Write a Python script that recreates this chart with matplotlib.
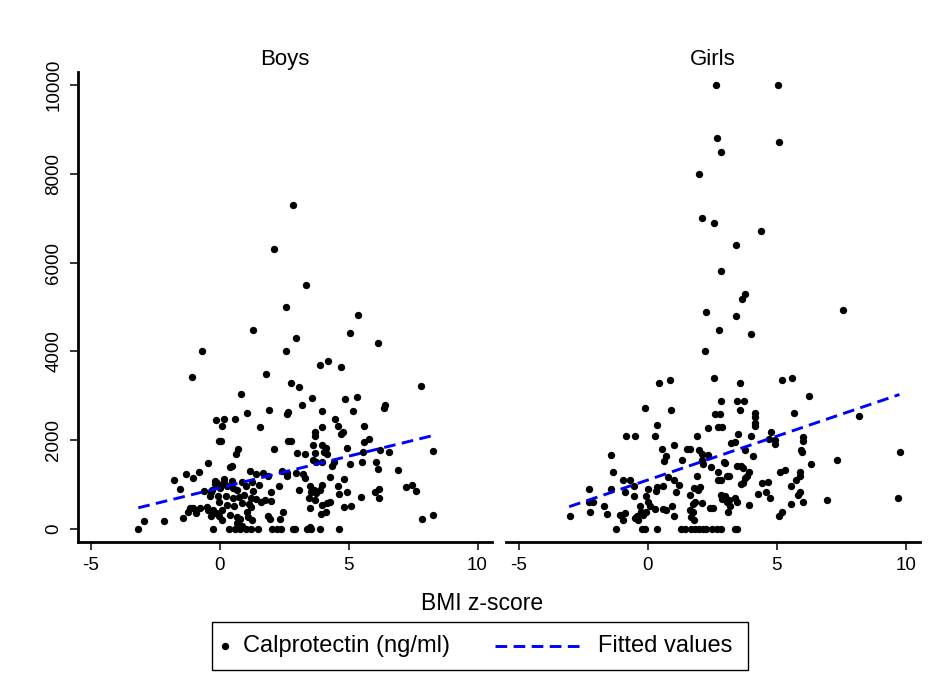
import numpy as np
import matplotlib
matplotlib.use("Agg")
import matplotlib.pyplot as plt
from matplotlib.lines import Line2D
from matplotlib.patches import Rectangle

plt.rcParams.update({"font.family": ["Liberation Sans", "DejaVu Sans"]})

# ---------------- data ----------------
boys_bmi = [
    2.85, 2.11, 3.35, 2.56, 5.38, 1.30, 5.07, 2.97, -0.67, 2.56, 6.13, 3.91, 4.22, 4.72, -1.07, 1.81,
    7.80, 2.78, 3.07, 0.82, 3.59, 4.86, 5.33, 3.19, 6.41, 6.36, 1.93, 2.67, 2.63, 3.96, 5.16, 1.08,
    4.49, -0.12, 0.16, 0.59,
    0.10, 1.56, -0.01, 0.05, 2.12, 0.73, 0.64, 2.64, 2.76, -0.43, 0.47, 0.42, -1.31, -0.81, -1.75, -1.02,
    1.16, 1.41, 1.69, 2.41, 2.63, 2.60, -0.17, -0.11, -0.19, 0.19, 0.19, 0.50, 0.86, 1.27, 1.54, 1.89,
    2.31, -1.54, -0.60, -0.30, -0.34, 0.02, 0.30, 0.53, 0.67, 1.04, 1.29, 0.96, 1.98, 1.75, 1.60, 1.98,
    -0.37, -0.05, 0.26, 0.53, 0.76, 1.22, 1.43, -0.01, 0.28, 0.56, 0.86, 1.14, 1.21, -1.13, -1.04, -1.21,
    -0.91, -0.76, -0.50, -0.43, -0.24, -0.14, 0.11, -0.33, -0.01, 0.09, 0.41, 0.68, 0.78, 1.05, 1.09, 1.25,
    1.87, 1.96, 2.47, 2.36, -2.94, -2.16, -3.15, -0.26, 0.38, 0.60, 0.81, 1.02, 1.22, 1.48, 0.67, 0.86,
    2.02, 2.24, 2.38, 2.86, -1.43,
    3.98, 4.60, 4.78, 4.71, 5.60, 3.71, 3.71, 5.79, 5.60, 3.61, 3.96, 4.13, 4.06, 4.16, 4.95, 2.99,
    3.31, 3.70, 5.57, 6.22, 6.56, 8.26, 3.64, 3.74, 3.96, 4.45, 4.37, 5.07, 5.52, 6.08, 6.13, 6.92,
    2.97, 3.25, 3.31, 4.28, 4.84, 3.07, 3.51, 3.66, 3.55, 3.96, 3.90, 3.74, 3.48, 3.70, 4.58, 4.64,
    4.95, 4.28, 4.16, 3.96, 3.51, 5.47, 6.03, 6.19, 6.18, 5.10, 4.84, 4.12, 3.93, 7.24, 7.47, 7.60,
    8.26, 7.84, 2.93, 3.38, 3.51, 3.53, 3.90, 4.63,
]
boys_calpro = [
    7300, 6300, 5490, 5000, 4830, 4490, 4410, 4300, 4000, 4000, 4200, 3700, 3790, 3650, 3430, 3500,
    3220, 3300, 3200, 3050, 2950, 2940, 2980, 2790, 2800, 2720, 2680, 2630, 2590, 2650, 2650, 2610,
    2490, 2460, 2490, 2490,
    2310, 2300, 1990, 1990, 1800, 1800, 1690, 1990, 1990, 1485, 1430, 1395, 1240, 1280, 1110, 1160,
    1300, 1250, 1260, 1300, 1260, 1185, 1090, 1035, 1010, 1125, 1035, 1090, 1070, 1050, 990, 1185,
    960, 900, 860, 885, 835, 920, 960, 920, 885, 980, 855, 770, 845, 660, 620, 630,
    735, 735, 750, 710, 720, 705, 675, 620, 550, 525, 585, 570, 500, 485, 485, 390,
    360, 470, 495, 435, 435, 360, 420, 285, 305, 210, 320, 270, 230, 375, 270, 210,
    285, 225, 395, 230, 185, 180, 0, 0, 0, 0, 0, 0, 0, 0, 135, 75,
    0, 0, 0, 0, 240,
    2295, 2310, 2195, 2145, 2310, 2175, 2100, 2030, 1970, 1900, 1900, 1820, 1725, 1690, 1835, 1710,
    1695, 1710, 1745, 1785, 1740, 1760, 1560, 1500, 1520, 1500, 1410, 1465, 1500, 1500, 1350, 1330,
    1260, 1235, 1145, 1170, 1125, 885, 960, 885, 845, 995, 885, 810, 695, 660, 960, 795,
    825, 620, 585, 545, 470, 720, 825, 900, 710, 530, 495, 395, 340, 945, 990, 860,
    315, 225, 0, 0, 45, 0, 0, 0,
]

girls_bmi = [
    2.64, 5.05, 2.67, 5.10, 2.82, 1.99, 2.09, 2.58, 4.38, 3.41, 2.82, 3.76, 3.66, 7.55, 2.27, 3.41,
    2.75, 4.00, 2.22, 0.43, 0.86, 2.56, 3.59, 5.21, 5.58, 6.24, 2.82, 3.46, 3.71,
    -0.13, 0.90, 3.59, 2.61, 2.79, 4.17, 4.17, 4.17, 4.17, 5.66, 8.18, 0.34, 2.34, 2.72, 2.88,
    -0.85, -0.50, 0.27, 1.89, 0.53, 1.02, 1.50, 1.63, 1.99, 2.08, 2.34, -1.43, 0.72, 0.63, 1.34, 2.08,
    2.14, 2.43, 2.70, -1.34, -0.98, -0.70, 0.79, 1.02, 1.20, 1.09, 1.89, 2.02, 1.93, 1.79, 2.70, 2.82,
    -2.28, -1.43, -0.89, -0.54, -0.54, -0.01, -0.09, 0.34, 0.31, 0.57, 0.01, 0.08, 1.63, 1.73, 1.82, 2.08,
    2.40, 2.53, 2.82, 2.88, -2.28, -2.12, -1.69, -1.60, -3.02, -2.26, -1.09, -0.89, -0.95, -0.50, -0.44, -0.40,
    -0.31, -0.27, -0.18, -0.09, 0.27, 0.59, 0.70, 0.92, 1.01, 1.63, 1.73, 1.69, 1.79, -1.24, -0.22, -0.12,
    0.36, 1.30, 1.43, 1.69, 1.82, 1.98, 2.14, 2.27, 2.47, 2.66, 2.82,
    3.50, 3.99, 4.77, 4.70, 4.92, 4.92, 6.02, 6.00, 5.93, 5.97, 3.22, 3.37, 3.76, 4.06, 9.77, 7.35,
    6.32, 2.95, 3.00, 3.46, 3.60, 3.70, 3.93, 3.86, 3.76, 3.70, 3.60, 3.05, 3.15, 5.12, 5.31, 5.89,
    5.89, 5.76, 4.43, 4.64, 5.54, 4.57, 4.28, 4.73, 5.89, 5.83, 6.00, 2.98, 3.05, 3.15, 3.37, 3.46,
    3.18, 3.11, 3.93, 5.54, 6.93, 9.68, 5.21, 5.09, 3.37, 3.46,
]
girls_calpro = [
    10000, 10000, 8800, 8710, 8500, 7990, 7000, 6900, 6700, 6400, 5800, 5290, 5190, 4930, 4890, 4790,
    4490, 4390, 4000, 3300, 3350, 3400, 3300, 3365, 3400, 3000, 2895, 2895, 2895,
    2720, 2690, 2690, 2595, 2595, 2610, 2535, 2400, 2325, 2610, 2540, 2355, 2285, 2295, 2295,
    2100, 2100, 2100, 2100, 1805, 1895, 1800, 1800, 1770, 1695, 1670, 1670, 1635, 1535, 1560, 1560,
    1470, 1395, 1295, 1295, 1095, 1095, 1170, 1095, 995, 845, 1200, 945, 885, 920, 1110, 1110,
    900, 900, 845, 975, 750, 900, 750, 945, 860, 960, 620, 525, 770, 570, 620, 585,
    485, 485, 770, 675, 600, 600, 525, 345, 285, 390, 320, 360, 195, 245, 300, 210,
    510, 375, 320, 395, 450, 450, 435, 525, 300, 435, 375, 270, 210, 10, 0, 0,
    0, 0, 0, 0, 0, 0, 0, 0, 0, 0, 0,
    2135, 2100, 2175, 2025, 2010, 1920, 2070, 1985, 1785, 1725, 1935, 1970, 1785, 1650, 1745, 1545,
    1470, 1520, 1485, 1425, 1410, 1375, 1295, 1200, 1145, 1035, 1020, 1200, 1200, 1295, 1335, 1295,
    1185, 1095, 1035, 1050, 960, 845, 795, 695, 845, 770, 620, 735, 620, 645, 695, 620,
    510, 395, 540, 570, 660, 695, 375, 285, 0, 0,
]

# fitted line end points (as drawn)
boys_fit_x = [-3.15, 8.26]
boys_fit_y = [480, 2105]
girls_fit_x = [-3.05, 9.75]
girls_fit_y = [505, 3030]

x_ticks = [-5, 0, 5, 10]
y_ticks = [0, 2000, 4000, 6000, 8000, 10000]

# ---------------- figure ----------------
W, H = 938, 687
fig = plt.figure(figsize=(W / 100, H / 100), dpi=100)
fig.patch.set_facecolor("white")

def px_axes(left, top, right, bottom):
    return fig.add_axes([left / W, 1 - bottom / H, (right - left) / W, (bottom - top) / H])

BLUE = "#0000ff"
DOT = dict(marker="o", linestyle="none", color="black", markersize=5.3, markeredgewidth=0)
FIT = dict(color=BLUE, linewidth=2.1, dashes=(4.0, 2.2))

ax_b = px_axes(77.7, 72, 492, 542)
ax_g = px_axes(506, 72, 920.3, 542)

panels = [(ax_b, "Boys", boys_bmi, boys_calpro, boys_fit_x, boys_fit_y),
          (ax_g, "Girls", girls_bmi, girls_calpro, girls_fit_x, girls_fit_y)]

for ax, title, xs, ys, fx, fy in panels:
    ax.plot(xs, ys, **DOT, zorder=3)
    ax.plot(fx, fy, **FIT, zorder=4)
    ax.set_xlim(-5.5, 10.56)
    ax.set_ylim(-290, 10290)
    ax.set_xticks(x_ticks)
    ax.set_xticklabels([str(t) for t in x_ticks])
    ax.tick_params(axis="x", direction="out", length=6, width=1.1, pad=5, labelsize=13.5, colors="black")
    for s in ["top", "right"]:
        ax.spines[s].set_visible(False)
    ax.spines["bottom"].set_linewidth(2)
    ax.spines["left"].set_linewidth(2)
    ax.set_title(title, fontsize=16, pad=5)

ax_b.set_yticks(y_ticks)
ax_b.set_yticklabels([str(t) for t in y_ticks], rotation=90, va="center")
ax_b.tick_params(axis="y", direction="out", length=6, width=1.1, pad=5, labelsize=13.5, colors="black")
ax_g.spines["left"].set_visible(False)
ax_g.set_yticks([])

fig.text(482 / W, 1 - 603 / H, "BMI z-score", ha="center", va="center", fontsize=16.5)

# ---------------- legend box ----------------
fig.add_artist(Rectangle((212 / W, 1 - 670 / H), (748 - 212) / W, 48 / H,
                         transform=fig.transFigure, facecolor="white", edgecolor="black", linewidth=1))
ly = 1 - 646 / H
fig.add_artist(Line2D([225 / W], [ly], transform=fig.transFigure, **DOT))
fig.text(243 / W, ly, "Calprotectin (ng/ml)", ha="left", va="center", fontsize=17)
fig.add_artist(Line2D([495 / W, 581 / W], [ly, ly], transform=fig.transFigure, **FIT))
fig.text(598 / W, ly, "Fitted values", ha="left", va="center", fontsize=17)

fig.savefig("out.png", dpi=100, facecolor="white")
